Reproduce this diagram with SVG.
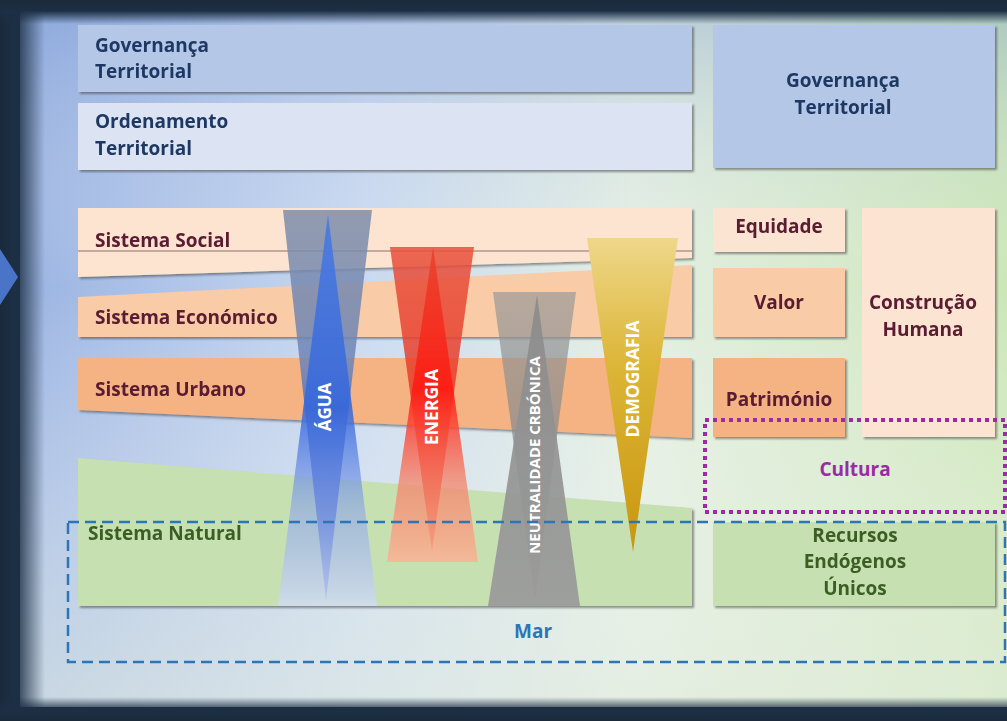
<svg xmlns="http://www.w3.org/2000/svg" width="1007" height="721" viewBox="0 0 1007 721">
<defs>
<style>
.lbl{font-family:"Open Sans","Liberation Sans",sans-serif;font-weight:700;font-size:19px}
.blue{fill:#1f3864}
.mar{fill:#5a1a30}
.grn{fill:#3b5e24}
.vt{font-family:"Open Sans","Liberation Sans",sans-serif;font-weight:700;fill:#ffffff;text-anchor:middle}
.c{text-anchor:middle}
.box{filter:url(#sh)}
</style>
<filter id="sh" x="-5%" y="-5%" width="110%" height="120%">
<feDropShadow dx="2" dy="2" stdDeviation="1.2" flood-color="#404040" flood-opacity="0.55"/>
</filter>
<linearGradient id="bgH" x1="0" y1="0" x2="1" y2="0">
<stop offset="0" stop-color="#9bb4e2"/>
<stop offset="0.35" stop-color="#c9d9f0"/>
<stop offset="0.62" stop-color="#e3eee2"/>
<stop offset="1" stop-color="#cce6b8"/>
</linearGradient>
<linearGradient id="bgV" x1="0" y1="0" x2="0" y2="1">
<stop offset="0" stop-color="#6f90cf" stop-opacity="0.35"/>
<stop offset="0.4" stop-color="#ffffff" stop-opacity="0"/>
<stop offset="1" stop-color="#e6eee2" stop-opacity="0.6"/>
</linearGradient>
<linearGradient id="vigL" x1="0" y1="0" x2="1" y2="0">
<stop offset="0" stop-color="#1a2a3b"/>
<stop offset="0.3" stop-color="#1c2f44"/>
<stop offset="1" stop-color="#1c2f44" stop-opacity="0"/>
</linearGradient>
<linearGradient id="vigT" x1="0" y1="0" x2="0" y2="1">
<stop offset="0" stop-color="#1a2a3b"/>
<stop offset="0.45" stop-color="#1c2f44"/>
<stop offset="1" stop-color="#1c2f44" stop-opacity="0"/>
</linearGradient>
<linearGradient id="vigB" x1="0" y1="1" x2="0" y2="0">
<stop offset="0" stop-color="#1a2a3b"/>
<stop offset="0.4" stop-color="#1c2f44"/>
<stop offset="1" stop-color="#1c2f44" stop-opacity="0"/>
</linearGradient>
<linearGradient id="aguaDown" x1="0" y1="210" x2="0" y2="600" gradientUnits="userSpaceOnUse">
<stop offset="0" stop-color="#7f8ea9" stop-opacity="0.85"/>
<stop offset="0.4" stop-color="#6c84b8" stop-opacity="0.85"/>
<stop offset="0.6" stop-color="#3a62c8" stop-opacity="0.9"/>
<stop offset="1" stop-color="#5a78c8" stop-opacity="0.9"/>
</linearGradient>
<linearGradient id="aguaUp" x1="0" y1="214" x2="0" y2="606" gradientUnits="userSpaceOnUse">
<stop offset="0" stop-color="#4a7ae2" stop-opacity="0.9"/>
<stop offset="0.5" stop-color="#3366dd" stop-opacity="0.85"/>
<stop offset="0.75" stop-color="#8aa3ea" stop-opacity="0.6"/>
<stop offset="1" stop-color="#d2dbf6" stop-opacity="0.8"/>
</linearGradient>
<linearGradient id="enDown" x1="0" y1="247" x2="0" y2="552" gradientUnits="userSpaceOnUse">
<stop offset="0" stop-color="#e8503c" stop-opacity="0.85"/>
<stop offset="0.5" stop-color="#e83a28" stop-opacity="0.85"/>
<stop offset="1" stop-color="#e2301e" stop-opacity="0.9"/>
</linearGradient>
<linearGradient id="enUp" x1="0" y1="247" x2="0" y2="562" gradientUnits="userSpaceOnUse">
<stop offset="0" stop-color="#e8442e" stop-opacity="0.9"/>
<stop offset="0.45" stop-color="#ff1a12" stop-opacity="0.9"/>
<stop offset="0.75" stop-color="#f5846a" stop-opacity="0.75"/>
<stop offset="1" stop-color="#f8b596" stop-opacity="0.9"/>
</linearGradient>
<linearGradient id="neDown" x1="0" y1="292" x2="0" y2="600" gradientUnits="userSpaceOnUse">
<stop offset="0" stop-color="#9a9a9a" stop-opacity="0.7"/>
<stop offset="1" stop-color="#7a7a7a" stop-opacity="0.8"/>
</linearGradient>
<linearGradient id="neUp" x1="0" y1="295" x2="0" y2="606" gradientUnits="userSpaceOnUse">
<stop offset="0" stop-color="#8a8a8a" stop-opacity="0.9"/>
<stop offset="1" stop-color="#9c9c9c" stop-opacity="0.95"/>
</linearGradient>
<linearGradient id="demo" x1="0" y1="238" x2="0" y2="552" gradientUnits="userSpaceOnUse">
<stop offset="0" stop-color="#efd78a"/>
<stop offset="0.4" stop-color="#dcb638"/>
<stop offset="1" stop-color="#c9960e"/>
</linearGradient>
</defs>

<g id="background">
<rect x="0" y="0" width="1007" height="721" fill="#1b2b3c"/>
<rect x="20" y="10" width="987" height="697" fill="url(#bgH)"/>
<rect x="20" y="10" width="987" height="697" fill="url(#bgV)"/>
<rect x="0" y="0" width="45" height="721" fill="url(#vigL)"/>
<rect x="0" y="0" width="1007" height="24" fill="url(#vigT)"/>
<rect x="0" y="697" width="1007" height="24" fill="url(#vigB)"/>
<polygon points="0,249 18,277 0,305" fill="#4a74c8"/>
</g>

<g id="governanca-territorial-left" class="box">
<rect x="78" y="25" width="614" height="67" fill="#b4c7e7"/>
<text class="lbl blue" x="95" y="52">Governança</text>
<text class="lbl blue" x="95" y="78">Territorial</text>
</g>
<g id="ordenamento-territorial" class="box">
<rect x="78" y="103" width="614" height="67" fill="#dce4f3"/>
<text class="lbl blue" x="95" y="128">Ordenamento</text>
<text class="lbl blue" x="95" y="155">Territorial</text>
</g>
<g id="governanca-territorial-right" class="box">
<rect x="713" y="25" width="282" height="143" fill="#b4c7e7"/>
<text class="lbl blue c" x="843" y="87">Governança</text>
<text class="lbl blue c" x="843" y="114">Territorial</text>
</g>

<g id="sistema-natural" class="box">
<polygon points="78,458 692,508 692,606 78,606" fill="#c6e0b2"/>
<text class="lbl grn" x="88" y="540">Sistema Natural</text>
</g>
<g id="sistema-urbano" class="box">
<polygon points="78,358 692,358 692,438 78,410" fill="#f5b283"/>
<text class="lbl mar" x="95" y="396">Sistema Urbano</text>
</g>
<g id="sistema-economico" class="box">
<polygon points="78,297 692,265 692,337 78,337" fill="#f9cba6"/>
<text class="lbl mar" x="95" y="324">Sistema Económico</text>
</g>
<g id="sistema-social" class="box">
<polygon points="78,208 692,208 692,258 78,277" fill="#fde4d0"/>
<line x1="78" y1="251" x2="692" y2="251" stroke="#8d6f6a" stroke-width="1"/>
<text class="lbl mar" x="95" y="247">Sistema Social</text>
</g>

<g id="equidade" class="box">
<rect x="713" y="208" width="132" height="44" fill="#fce4d3"/>
<text class="lbl mar c" x="779" y="233">Equidade</text>
</g>
<g id="valor" class="box">
<rect x="713" y="268" width="132" height="69" fill="#f9cba6"/>
<text class="lbl mar c" x="779" y="309">Valor</text>
</g>
<g id="patrimonio" class="box">
<rect x="713" y="358" width="132" height="79" fill="#f5b283"/>
<text class="lbl mar c" x="779" y="406">Património</text>
</g>
<g id="construcao-humana" class="box">
<rect x="862" y="208" width="133" height="229" fill="#fce4d3"/>
<text class="lbl mar c" x="923" y="309">Construção</text>
<text class="lbl mar c" x="923" y="336">Humana</text>
</g>
<g id="recursos-endogenos" class="box">
<rect x="713" y="522" width="282" height="84" fill="#c6e0b2"/>
<text class="lbl grn c" x="855" y="542">Recursos</text>
<text class="lbl grn c" x="855" y="568">Endógenos</text>
<text class="lbl grn c" x="855" y="595">Únicos</text>
</g>

<g id="agua">
<polygon points="283,210 372,210 326,600" fill="url(#aguaDown)"/>
<polygon points="328,214 278,606 377,606" fill="url(#aguaUp)"/>
<text class="vt" font-size="17" transform="translate(331,407) rotate(-90)">ÁGUA</text>
</g>
<g id="energia">
<polygon points="390,247 474,247 432,552" fill="url(#enDown)"/>
<polygon points="433,247 387,562 478,562" fill="url(#enUp)"/>
<text class="vt" font-size="17.5" transform="translate(438,407) rotate(-90)">ENERGIA</text>
</g>
<g id="neutralidade">
<polygon points="493,292 576,292 535,600" fill="url(#neDown)"/>
<polygon points="537,295 488,606 580,606" fill="url(#neUp)"/>
<text class="vt" font-size="15" transform="translate(540,455) rotate(-90)">NEUTRALIDADE CRBÓNICA</text>
</g>
<g id="demografia">
<polygon points="587,238 678,238 633,552" fill="url(#demo)"/>
<text class="vt" font-size="17.5" transform="translate(639,379) rotate(-90)">DEMOGRAFIA</text>
</g>

<g id="connectors">
<rect id="cultura" x="705" y="420" width="300" height="92" fill="none" stroke="#9b2aa5" stroke-width="4" stroke-dasharray="4 4"/>
<rect id="mar" x="68" y="522" width="937" height="140" fill="none" stroke="#2e75b6" stroke-width="2.5" stroke-dasharray="11 6"/>
</g>
<g id="cultura-label">
<text class="lbl c" x="855" y="476" fill="#9b2aa5">Cultura</text>
</g>
<g id="mar-label">
<text class="lbl c" x="533" y="638" fill="#2e75b6">Mar</text>
</g>
</svg>
